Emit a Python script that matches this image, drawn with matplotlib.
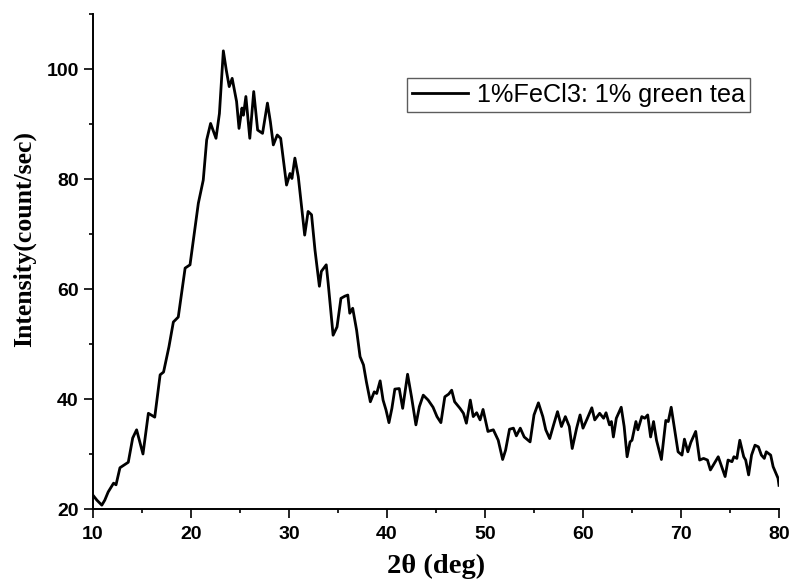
import matplotlib
matplotlib.use("Agg")
import matplotlib.pyplot as plt
from matplotlib.ticker import MultipleLocator

two_theta = [10.0, 10.4, 10.9, 11.2, 11.55, 12.1, 12.35, 12.75, 13.6, 14.05, 14.45, 15.1, 15.65, 16.3,
             16.85, 17.2, 17.75, 18.2, 18.7, 19.4, 19.9, 20.2, 20.75, 21.25, 21.6, 22.0, 22.55, 22.9,
             23.3, 23.6, 23.9, 24.2, 24.65, 24.9, 25.2, 25.35, 25.6, 26.0, 26.4, 26.8, 27.3, 27.8,
             28.1, 28.4, 28.8, 29.15, 29.75, 30.1, 30.3, 30.6, 30.95, 31.6, 31.95, 32.3, 32.65, 33.1,
             33.3, 33.8, 34.0, 34.5, 34.9, 35.3, 35.7, 36.0, 36.2, 36.5, 36.9, 37.25, 37.6, 37.9,
             38.3, 38.7, 38.95, 39.3, 39.6, 39.9, 40.2, 40.5, 40.8, 41.25, 41.6, 42.1, 42.5, 42.95,
             43.3, 43.7, 44.2, 44.7, 45.1, 45.5, 45.9, 46.3, 46.6, 46.9, 47.45, 47.8, 48.1, 48.5,
             48.8, 49.15, 49.5, 49.8, 50.3, 50.85, 51.35, 51.8, 52.1, 52.5, 52.9, 53.2, 53.6, 54.0,
             54.6, 55.0, 55.45, 55.9, 56.2, 56.6, 57.0, 57.4, 57.8, 58.2, 58.6, 58.9, 59.35, 59.7,
             60.0, 60.4, 60.9, 61.2, 61.7, 62.1, 62.35, 62.7, 62.9, 63.1, 63.4, 63.9, 64.2, 64.5,
             64.8, 65.0, 65.4, 65.6, 66.0, 66.3, 66.6, 66.9, 67.2, 67.5, 68.0, 68.45, 68.7, 69.0,
             69.4, 69.7, 70.1, 70.35, 70.7, 71.0, 71.5, 71.9, 72.3, 72.7, 73.0, 73.4, 73.8, 74.15,
             74.5, 74.8, 75.2, 75.4, 75.7, 76.0, 76.4, 76.6, 76.9, 77.2, 77.55, 77.9, 78.2, 78.5,
             78.7, 79.15, 79.4, 79.9, 80.0]
intensity = [22.5, 21.6, 20.7, 21.6, 23.1, 24.7, 24.4, 27.5, 28.5, 32.9, 34.4, 30.0, 37.4, 36.7,
             44.4, 44.9, 49.5, 54.0, 54.9, 63.8, 64.4, 68.4, 75.6, 79.8, 87.1, 90.1, 87.4, 91.9,
             103.3, 99.8, 96.8, 98.3, 94.1, 89.2, 92.9, 91.6, 95.0, 87.4, 95.9, 88.9, 88.3, 93.8,
             90.4, 86.2, 88.0, 87.4, 78.9, 81.0, 80.1, 83.8, 80.4, 69.8, 74.1, 73.5, 67.1, 60.5,
             63.2, 64.4, 61.0, 51.6, 53.1, 58.3, 58.7, 58.9, 55.6, 56.5, 52.5, 47.7, 46.2, 43.1,
             39.5, 41.3, 41.0, 43.3, 39.8, 38.0, 35.7, 38.3, 41.8, 41.9, 38.3, 44.5, 40.4, 35.3,
             38.6, 40.7, 39.8, 38.5, 36.8, 35.7, 40.4, 40.9, 41.6, 39.5, 38.3, 37.4, 35.6, 39.8,
             36.8, 37.5, 36.2, 38.1, 34.1, 34.4, 32.5, 29.0, 30.7, 34.5, 34.7, 33.3, 34.7, 33.1,
             32.2, 37.1, 39.3, 36.8, 34.4, 32.8, 35.3, 37.7, 35.0, 36.8, 35.0, 31.0, 34.7, 37.1,
             34.7, 36.3, 38.4, 36.2, 37.4, 36.5, 37.5, 35.3, 35.9, 33.1, 36.5, 38.5, 35.0, 29.5,
             32.2, 32.5, 35.9, 34.4, 36.8, 36.5, 37.1, 33.1, 35.9, 32.5, 29.0, 36.1, 35.9, 38.5,
             33.8, 30.4, 29.8, 32.7, 30.4, 32.1, 34.1, 28.9, 29.2, 28.9, 27.1, 28.3, 29.5, 27.7,
             25.9, 28.9, 28.6, 29.5, 29.2, 32.5, 29.5, 28.9, 26.2, 29.8, 31.6, 31.3, 29.8, 29.2,
             30.4, 29.8, 27.7, 25.6, 24.3]

series_label = "1%FeCl3: 1% green tea"
x_label = "2θ (deg)"
y_label = "Intensity(count/sec)"
x_ticks = [10, 20, 30, 40, 50, 60, 70, 80]
y_ticks = [20, 40, 60, 80, 100]

fig = plt.figure(figsize=(7.91, 5.80), dpi=100)
ax = fig.add_axes([93/791, 1-509/580, 686/791, 495/580])

ax.plot(two_theta, intensity, color="black", lw=2.0, label=series_label,
        solid_joinstyle="round")

ax.set_xlim(10, 80)
ax.set_ylim(20, 110)
ax.set_xticks(x_ticks)
ax.set_yticks(y_ticks)
ax.xaxis.set_minor_locator(MultipleLocator(5))
ax.yaxis.set_minor_locator(MultipleLocator(10))

for s in ["top", "right"]:
    ax.spines[s].set_visible(False)
for s in ["left", "bottom"]:
    ax.spines[s].set_linewidth(1.4)

ax.tick_params(which="major", direction="out", length=6.3, width=1.2, labelsize=14)
ax.tick_params(which="minor", direction="out", length=3.2, width=1.2)
ax.tick_params(axis="x", which="major", pad=6)
ax.tick_params(axis="y", which="major", pad=4)
for lbl in ax.get_xticklabels() + ax.get_yticklabels():
    lbl.set_fontfamily("Liberation Sans")
    lbl.set_fontweight("bold")

fig.text(436/791, 1-566/580, x_label, ha="center", va="center",
         fontsize=20.5, fontweight="bold", family="Liberation Serif")
fig.text(24/791, 1-239/580, y_label, ha="center", va="center", rotation=90,
         fontsize=18.5, fontweight="bold", family="Liberation Serif")

leg = ax.legend(loc="upper left", bbox_to_anchor=((407-93)/686, (509-78)/495),
                borderaxespad=0, fancybox=False, frameon=True, edgecolor="#333333",
                prop={"family": "Liberation Sans", "size": 18.2},
                handlelength=2.2, handletextpad=0.35, borderpad=0.2)
leg.get_frame().set_linewidth(1.0)

fig.savefig("out.png", dpi=100)
